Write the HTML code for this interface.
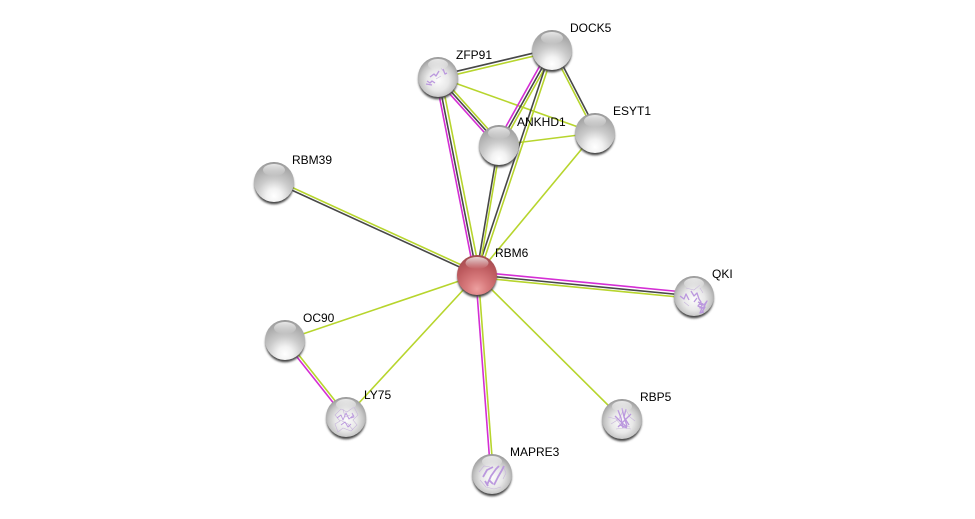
<!DOCTYPE html>
<html><head><meta charset="utf-8">
<style>
html,body{margin:0;padding:0;background:#fff;width:975px;height:519px;overflow:hidden}
svg{display:block}
text{font-family:"Liberation Sans",sans-serif;font-size:12px;fill:#000}
.g{stroke:#b7d52d}.m{stroke:#d42ed4}.d{stroke:#484848}
line{stroke-width:1.6;stroke-linecap:butt}
.s{fill:none;stroke:#bb98de;stroke-width:1.3;stroke-linejoin:round}
.t{fill:none;stroke:#c8b6dc;stroke-width:.6}
</style></head><body>
<svg width="975" height="519" viewBox="0 0 975 519" xmlns="http://www.w3.org/2000/svg">
<defs>
<filter id="bl" x="-20%" y="-20%" width="140%" height="140%"><feGaussianBlur stdDeviation="1"/></filter>
<radialGradient id="gb" cx=".5" cy=".85" r=".85">
<stop offset="0" stop-color="#ffffff"/><stop offset=".22" stop-color="#f2f2f2"/><stop offset=".5" stop-color="#cbcbcb"/><stop offset=".8" stop-color="#aeaeae"/><stop offset=".95" stop-color="#a0a0a0"/><stop offset="1" stop-color="#8e8e8e"/>
</radialGradient>
<radialGradient id="gs" cx=".5" cy=".58" r=".6">
<stop offset="0" stop-color="#fcfcfc"/><stop offset=".45" stop-color="#e8e8e8"/><stop offset=".72" stop-color="#c6c6c6"/><stop offset=".9" stop-color="#a4a4a4"/><stop offset="1" stop-color="#8e8e8e"/>
</radialGradient>
<radialGradient id="gr" cx=".5" cy=".85" r=".85">
<stop offset="0" stop-color="#eda0a0"/><stop offset=".3" stop-color="#d97c7e"/><stop offset=".7" stop-color="#bd5a5e"/><stop offset="1" stop-color="#a04a4e"/>
</radialGradient>
<linearGradient id="hl" x1="0" y1="0" x2="0" y2="1">
<stop offset="0" stop-color="#fff" stop-opacity=".75"/><stop offset="1" stop-color="#fff" stop-opacity="0"/>
</linearGradient>
<g id="n"><circle cx="0" cy="2.6" r="19.6" fill="#444" filter="url(#bl)"/><circle r="20" fill="url(#gb)"/><ellipse cx="0" cy="-12" rx="11" ry="6" fill="url(#hl)"/></g>
<g id="ns"><circle cx="0" cy="2.6" r="19.6" fill="#444" filter="url(#bl)"/><circle r="20" fill="url(#gs)"/></g>
<g id="hi"><ellipse cx="0" cy="-12.5" rx="10" ry="5.5" fill="url(#hl)"/></g>
</defs>

<!-- edges -->
<line class="d" x1="438" y1="75.7" x2="552" y2="48.7"/>
<line class="g" x1="438.4" y1="78.7" x2="552.4" y2="51.7"/>

<line class="g" x1="552" y1="50" x2="595" y2="133"/>
<line class="d" x1="554.2" y1="49" x2="597.2" y2="132"/>

<line class="g" x1="438" y1="77" x2="595" y2="133"/>
<line class="g" x1="499" y1="145" x2="595" y2="133"/>
<line class="g" x1="477" y1="275" x2="595" y2="133"/>

<line class="m" x1="549.4" y1="48.6" x2="496.4" y2="143.6"/>
<line class="d" x1="552" y1="50" x2="499" y2="145"/>
<line class="g" x1="554.2" y1="51.2" x2="501.2" y2="146.2"/>

<line class="d" x1="551" y1="49.7" x2="476" y2="274.7"/>
<line class="g" x1="553.8" y1="50.6" x2="478.8" y2="275.6"/>

<line class="d" x1="498.3" y1="145" x2="476.3" y2="275"/>
<line class="g" x1="500.5" y1="145" x2="478.5" y2="275"/>

<line class="m" x1="435.6" y1="77.5" x2="474.6" y2="275.5"/>
<line class="d" x1="438" y1="77" x2="477" y2="275"/>
<line class="g" x1="441" y1="76.4" x2="480" y2="274.4"/>

<line class="m" x1="436.1" y1="78.7" x2="497.1" y2="146.7"/>
<line class="d" x1="438" y1="77" x2="499" y2="145"/>
<line class="g" x1="439.9" y1="75.3" x2="500.9" y2="143.3"/>

<line class="g" x1="275.1" y1="179.6" x2="478.1" y2="272.6"/>
<line class="d" x1="274" y1="182" x2="477" y2="275"/>

<line class="m" x1="477.3" y1="272" x2="694.3" y2="293"/>
<line class="d" x1="477" y1="275" x2="694" y2="296"/>
<line class="g" x1="476.8" y1="277.5" x2="693.8" y2="298.5"/>

<line class="g" x1="285" y1="340" x2="477" y2="275"/>
<line class="g" x1="346" y1="417" x2="477" y2="275"/>
<line class="g" x1="477" y1="275" x2="622" y2="419"/>

<line class="m" x1="284.1" y1="340.7" x2="345.1" y2="417.7"/>
<line class="g" x1="286.2" y1="339.1" x2="347.2" y2="416.1"/>

<line class="m" x1="475.7" y1="275.1" x2="490.7" y2="474.1"/>
<line class="g" x1="478.3" y1="274.9" x2="493.3" y2="473.9"/>

<!-- plain nodes -->
<use href="#n" x="552" y="50"/>
<use href="#n" x="499" y="145"/>
<use href="#n" x="595" y="133"/>
<use href="#n" x="274" y="182"/>
<use href="#n" x="285" y="340"/>

<!-- RBM6 -->
<g transform="translate(477 275)">
<circle cx="0" cy="2.6" r="19.6" fill="#444" filter="url(#bl)"/><circle r="20" fill="url(#gr)"/><ellipse cx="0" cy="-12" rx="11.5" ry="6" fill="url(#hl)"/>
</g>

<!-- structure nodes -->
<g transform="translate(438 77)"><use href="#ns"/>
<path class="s" d="M-11 4l3 2 2-2 3 2M-8 0l4-3 2 2 3-5M5-8l2 5 2-1M-12 7l6 1"/>
<path class="t" d="M-2 2l5-3M3-9l2 3"/><use href="#hi"/></g>

<g transform="translate(694 296)"><use href="#ns"/>
<path class="s" d="M-14 0l4 3 2-5 3 6M-3-5l3 5 3-3 2 6 2 3 -3 4 4 2-2 5 4-1M5 8l5 1 3-4-4 8M3 2l-3 4"/>
<path class="s" d="M4 6l5 2-3 4 5-1-3 5"/><path class="t" d="M-8-8l8 2 6-5M-10 6l5 4M6-8l3 5"/><use href="#hi"/></g>

<g transform="translate(346 417)"><use href="#ns"/>
<path class="t" d="M-11-2l6-6 6 3 7-5 4 8-5 5 4 5-6 6-8-3-5 4-3-8 5-3zM-6 3l8 4 5 6M-3-8l2 8 5-2"/>
<path class="s" style="stroke-width:.9" d="M-9 1l4-3 2 5 3-7 3 6 5-4M-5 8l4-3 3 5 3-3M6-4l2 4-3 1"/><use href="#hi"/></g>

<g transform="translate(622 419)"><use href="#ns"/>
<path class="t" d="M-14-2l8 2 5 6 9 2M-11 5l8-5 4-8M4-9l4 7 5 4M-6 10l8-1 7 1"/>
<path class="s" d="M-4-9l3 8 2 10M0-11l2 9 3 9M4-10l-2 8 5 8M-7-3l6 6 6 5M9-5l-8 8-5 5M-2 6l7 3"/><use href="#hi"/></g>

<g transform="translate(492 474)"><use href="#ns"/>
<path class="t" d="M-13-2l5-6 6 1M-12 6l6 7 8 2 7-2M11-8l3 7-3 6"/>
<path class="s" style="stroke-width:1.8" d="M-9 3l4-7 6-3M-5 11l4-9 5-7 3-3M2 11l4-8 4-7 2-4M-3 6l4 4M-7 7l3 5"/><use href="#hi"/></g>

<!-- labels -->
<text x="570" y="32">DOCK5</text>
<text x="456" y="59">ZFP91</text>
<text x="517" y="126">ANKHD1</text>
<text x="613" y="115">ESYT1</text>
<text x="292" y="164">RBM39</text>
<text x="495" y="257">RBM6</text>
<text x="712" y="278">QKI</text>
<text x="303" y="322">OC90</text>
<text x="364" y="399">LY75</text>
<text x="640" y="401">RBP5</text>
<text x="510" y="456">MAPRE3</text>
</svg>
</body></html>
